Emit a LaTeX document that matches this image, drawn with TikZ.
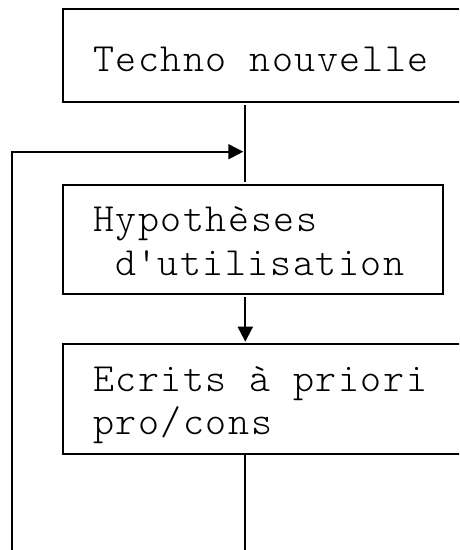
\documentclass[tikz,border=0pt]{standalone}
\usepackage{fontspec}
\newfontfamily\courf[LetterSpace=4]{lmmonolt10-regular.otf}
\usetikzlibrary{arrows.meta}
\begin{document}
\begin{tikzpicture}[x=1pt,y=-1pt,
  box/.style={draw=black, line width=2pt, rectangle, inner sep=0pt, outer sep=0pt, anchor=north west},
  lbl/.style={anchor=base west, inner sep=0pt, outer sep=0pt, font=\courf\fontsize{40}{44}\selectfont},
  conn/.style={draw=black, line width=2pt},
  tip/.style={-{Triangle[length=15pt,width=15pt]}}]
\useasboundingbox (0,0) rectangle (459,550);
\clip (0,0) rectangle (459,550);
% boxes
\node[box, minimum width=420pt, minimum height=92.4pt] (b1) at (63,9.3) {};
\node[box, minimum width=380.3pt, minimum height=109pt] (b2) at (63,185) {};
\node[box, minimum width=420pt, minimum height=109.7pt] (b3) at (63,344.3) {};
% texts
\node[lbl] (t1) at (93,71.7) {Techno nouvelle};
\node[lbl] (t2a) at (93,231.7) {Hypothèses};
\node[lbl] (t2b) at (93,275.5) {\ d\textquotesingle utilisation};
\node[lbl] (t3a) at (93,391) {Ecrits à priori};
\node[lbl] (t3b) at (93,434) {pro/cons};
% coordinates
\coordinate (cx) at (245.3,0);
\coordinate (j) at (245.3,151.7);
\coordinate (fb) at (12,560);
\coordinate (bot) at (245.3,560);
% connectors
\draw[conn, shorten <=3.3pt, shorten >=3.3pt] (b1.south -| cx) -- (b2.north -| cx);
\draw[conn, tip, shorten >=2pt] (fb) |- (j);
\draw[conn, tip, shorten <=2.7pt, shorten >=2.6pt] (b2.south -| cx) -- (b3.north -| cx);
\draw[conn] (b3.south -| cx) -- (bot);
\end{tikzpicture}
\end{document}
